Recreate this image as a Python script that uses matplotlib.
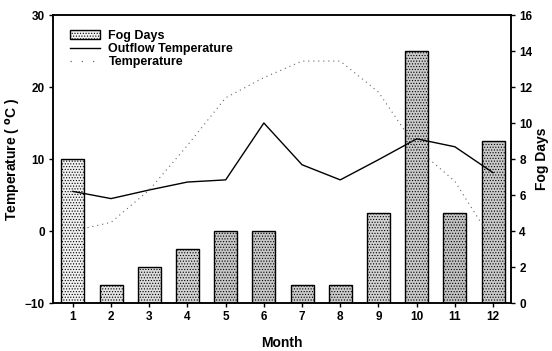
import matplotlib
matplotlib.use("Agg")
import matplotlib.pyplot as plt
from matplotlib.patches import Patch
from matplotlib.lines import Line2D

months = [1, 2, 3, 4, 5, 6, 7, 8, 9, 10, 11, 12]
fog_days = [8, 1, 2, 3, 4, 4, 1, 1, 5, 14, 5, 9]
outflow_temp = [5.5, 4.5, 5.7, 6.8, 7.1, 15.0, 9.2, 7.1, 9.9, 12.8, 11.7, 8.1]
air_temp = [0.0, 1.2, 5.7, 11.9, 18.5, 21.3, 23.6, 23.6, 19.3, 11.5, 6.9, -1.5]

plt.rcParams['font.family'] = ['Liberation Sans', 'DejaVu Sans']
plt.rcParams['font.weight'] = 'bold'
plt.rcParams['hatch.color'] = '#8c8c8c'
plt.rcParams['hatch.linewidth'] = 0.5

fig = plt.figure(figsize=(5.52, 3.51), dpi=100)
ax = fig.add_axes([53/552, 1-303/351, (511-53)/552, (303-15)/351])
ax2 = ax.twinx()

bar_colors = ['#f0f0f0', '#e2e2e2', '#dadada', '#d2d2d2', '#c6c6c6', '#c6c6c6',
              '#cacaca', '#cacaca', '#d2d2d2', '#cacaca', '#c2c2c2', '#cacaca']
ax2.bar(months, fog_days, width=0.6, color=bar_colors, edgecolor='black',
        linewidth=1.0, hatch='......', zorder=2)

ax.plot(months, outflow_temp, color='black', linewidth=1.0, zorder=3)
ax.plot(months, air_temp, color='#666666', linewidth=0.8,
        linestyle=(0, (1, 3.5)), zorder=3)

ax.set_zorder(ax2.get_zorder() + 1)
ax.patch.set_visible(False)

ax.set_xlim(0.48, 12.47)
ax.set_ylim(-10, 30)
ax2.set_ylim(0, 16)
ax.set_xticks(months)
ax.set_yticks([-10, 0, 10, 20, 30])
ax2.set_yticks(list(range(0, 17, 2)))

for a in (ax, ax2):
    a.tick_params(direction='out', length=3, width=1.0, labelsize=8.5, pad=3)
    for s in a.spines.values():
        s.set_linewidth(1.1)
for lab in ax.get_xticklabels() + ax.get_yticklabels() + ax2.get_yticklabels():
    lab.set_fontweight('bold')

ax.set_xlabel('Month', fontsize=10, fontweight='bold', labelpad=9)
ax.set_ylabel('Temperature ( $^{\\mathrm{o}}$C )', fontsize=10, fontweight='bold', labelpad=1)
ax2.set_ylabel('Fog Days', fontsize=10, fontweight='bold', labelpad=2)

handles = [Patch(facecolor='#f0f0f0', edgecolor='black', hatch='......', linewidth=1.0),
           Line2D([0], [0], color='black', linewidth=1.0),
           Line2D([0], [0], color='#666666', linewidth=0.9, linestyle=(0, (1, 8)))]
labels = ['Fog Days', 'Outflow Temperature', 'Temperature']
leg = ax.legend(handles, labels, loc='upper left', bbox_to_anchor=(0.02, 0.975),
                frameon=False, fontsize=9, handlelength=2.4, handleheight=0.7,
                labelspacing=0.1, borderaxespad=0.2, handletextpad=0.7)
for t in leg.get_texts():
    t.set_fontweight('bold')

fig.savefig('out.png', dpi=100)
